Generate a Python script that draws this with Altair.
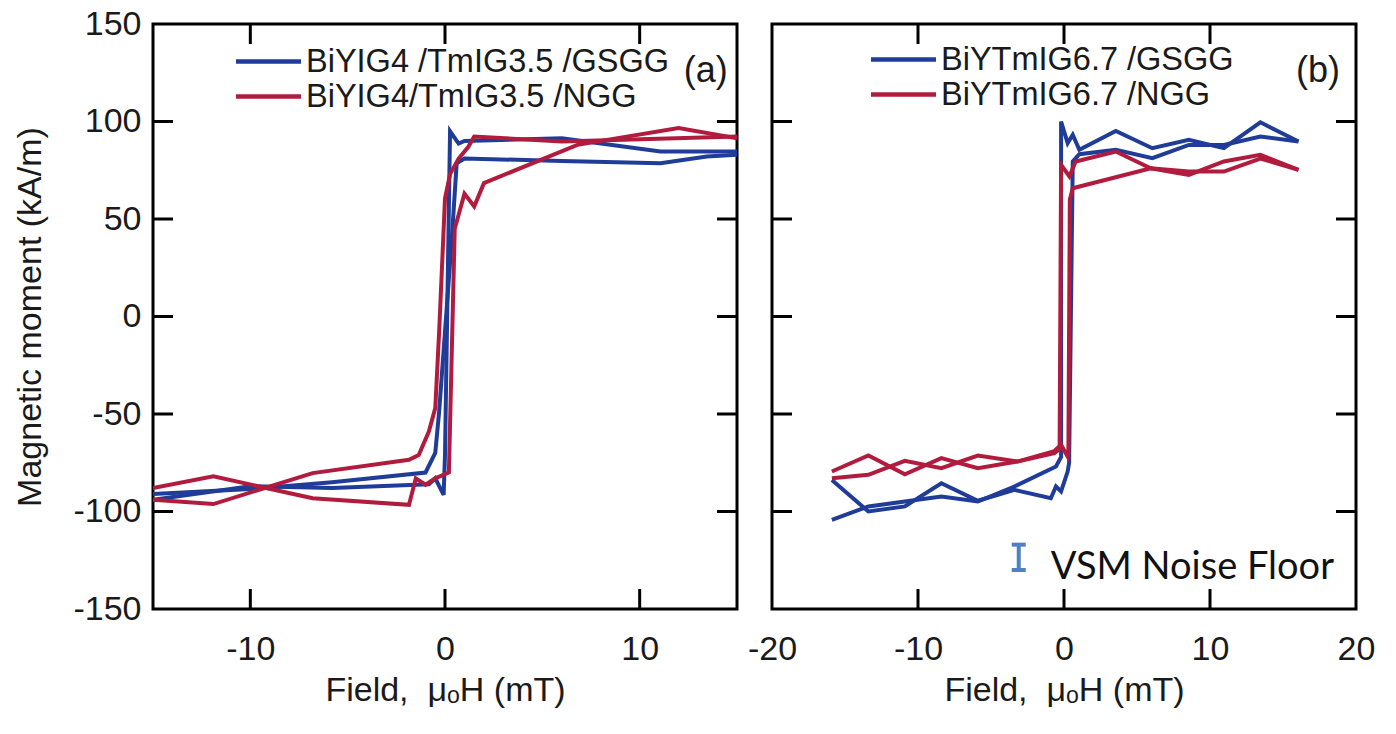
import altair as alt
import pandas as pd

BLUE = "#1f3c98"
RED = "#b11c3e"
NOISE = "#4f7fc4"
INK = "#1a1a1a"
FONT = "Liberation Sans"
W, H = 584, 585

# ---------------- data: panel (a) ----------------
a_labels = ["BiYIG4 /TmIG3.5 /GSGG", "BiYIG4/TmIG3.5 /NGG"]
a_gsgg_dn_x = [15, 11.07, 6.0, 1.0, 0.7, 0.26, 0.0, -0.07, -0.5, -0.83, -5.8, -10, -15]
a_gsgg_dn_y = [84.6, 84.6, 91.4, 90, 88.7, 95, -71, -91.5, -83, -86, -88, -87, -94]
a_gsgg_up_x = [-15, -10, -5.8, -1.0, -0.5, -0.3, 0.35, 0.6, 1.0, 6.0, 11.07, 13.45, 15]
a_gsgg_up_y = [-91, -88.5, -85, -80, -70, -48.7, 40, 78.6, 81, 79.8, 78.6, 82, 83]
a_ngg_dn_x = [15, 12, 6.8, 2.0, 1.5, 1.0, 0.5, 0.2, -0.5, -1.0, -1.5, -1.85, -6.8, -11.9, -15]
a_ngg_dn_y = [91.4, 96.6, 88, 68.4, 56.4, 63, 45, -80, -83, -86.3, -83, -96.6, -93.2, -82, -88]
a_ngg_up_x = [-15, -11.9, -6.8, -1.85, -1.35, -0.83, -0.5, -0.3, 0.0, 0.26, 0.7, 1.2, 1.5, 6.0, 15]
a_ngg_up_y = [-94, -96.2, -80.3, -73.5, -71, -59, -47, -7.7, 60.5, 73, 81, 87, 92.3, 89.7, 92.3]

# ---------------- data: panel (b) ----------------
b_labels = ["BiYTmIG6.7 /GSGG", "BiYTmIG6.7 /NGG"]
b_gsgg_up_x = [-15.9, -13.4, -10.9, -8.4, -5.9, -3.4, -0.55, -0.2, -0.2, 0.25, 0.6, 1.05, 3.55, 6.05, 8.55, 10.95, 13.45, 16.06]
b_gsgg_up_y = [-104.3, -97.4, -94.9, -92.3, -94.9, -87.2, -76.9, -72, 100, 88.9, 93.2, 85.5, 95.2, 86.3, 90.6, 86.3, 99.6, 89.7]
b_gsgg_dn_x = [16.06, 13.45, 10.95, 8.55, 6.05, 3.55, 1.05, 0.6, 0.35, 0.25, -0.2, -0.55, -0.9, -3.4, -5.9, -8.4, -10.9, -13.4, -15.9]
b_gsgg_dn_y = [89.7, 92.3, 88, 88, 81.2, 85.5, 83.2, 79.5, -75, -79.5, -89.7, -87.2, -93.2, -88.9, -94.5, -85.5, -97.4, -100, -83.8]
b_ngg_up_x = [-15.9, -13.4, -10.9, -8.4, -5.9, -3.2, -0.66, -0.3, -0.2, 0.37, 0.8, 3.55, 5.94, 8.55, 10.95, 13.45, 16.06]
b_ngg_up_y = [-79.5, -71.3, -80.9, -72.6, -77.8, -74.4, -70.1, -68, 77.8, 71.8, 79.5, 84.6, 76, 72.6, 79.5, 82.9, 75.2]
b_ngg_dn_x = [16.06, 13.45, 10.95, 8.55, 5.94, 0.6, 0.4, 0.3, 0.25, -0.2, -0.66, -3.2, -5.9, -8.4, -10.9, -13.4, -15.9]
b_ngg_dn_y = [75.2, 81, 74.3, 74.3, 76, 65.8, 60, -70, -71.8, -65.8, -69, -74.4, -71.3, -77.8, -74, -81.2, -82.9]

# ---------------- axes ----------------
y_ticks = [-150, -100, -50, 0, 50, 100, 150]
y_inner = [-100, -50, 0, 50, 100]
a_xdom = [-15, 15]
b_xdom = [-20, 20]
a_xticks = [-10, 0, 10]
b_xticks = [-20, -10, 0, 10, 20]
x_inner = [-10, 0, 10]
ydom = [-150, 150]

noise_x = [-3.1]
noise_lo = [-130]
noise_hi = [-117]
noise_text = ["VSM Noise Floor"]

X_TITLE = "Field, \u00a0μₒH (mT)"
Y_TITLE = "Magnetic moment (kA/m)"


def loop_df(branches, label):
    rows = []
    k = 0
    for bi, (xs, ys) in enumerate(branches):
        for x, y in zip(xs, ys):
            rows.append({"x": x, "y": y, "series": label, "branch": f"{label}-{bi}", "o": k})
            k += 1
    return rows


def panel(df, labels, xdom, xticks, leg_px, tag, tag_xy, show_y, noise=False):
    xs = alt.Scale(domain=xdom, nice=False, zero=False)
    ys = alt.Scale(domain=ydom, nice=False, zero=False)
    cs = alt.Scale(domain=labels, range=[BLUE, RED])
    xaxis = alt.Axis(values=xticks, title=X_TITLE, ticks=False, tickSize=0,
                     domain=False, grid=False, labelFlush=False, labelFontSize=34,
                     labelPadding=23, titleFontSize=34, titlePadding=7,
                     labelColor=INK, titleColor=INK, labelFont=FONT, titleFont=FONT,
                     titleFontWeight="normal", labelExpr="'' + datum.value")
    if show_y:
        yaxis = alt.Axis(values=y_ticks, title=Y_TITLE, ticks=False, tickSize=0,
                         domain=False, grid=False, labelFontSize=34, labelPadding=12,
                         titleFontSize=34, titlePadding=25, labelColor=INK, titleColor=INK,
                         labelFont=FONT, titleFont=FONT, titleFontWeight="normal",
                         labelExpr="'' + datum.value")
    else:
        yaxis = None

    def X(f):
        return alt.X(f, type="quantitative", scale=xs, axis=xaxis)

    def Y(f):
        return alt.Y(f, type="quantitative", scale=ys, axis=yaxis)

    lines = alt.Chart(df).mark_line(strokeWidth=4, clip=True).encode(
        x=X("x"), y=Y("y"),
        color=alt.Color("series:N", scale=cs, legend=None),
        detail="branch:N",
        order="o:Q",
    )

    def tick_layer(xv, yv, orient, dx, dy):
        d = pd.DataFrame({"x": xv, "y": yv})
        return alt.Chart(d).mark_tick(orient=orient, size=20, thickness=3, color="black",
                                      opacity=1, xOffset=dx, yOffset=dy).encode(x=X("x"), y=Y("y"))

    n_y = len(y_inner)
    n_x = len(x_inner)
    layers = [
        lines,
        tick_layer([xdom[0]] * n_y, y_inner, "horizontal", 10, 0),
        tick_layer([xdom[1]] * n_y, y_inner, "horizontal", -10, 0),
        tick_layer(x_inner, [ydom[0]] * n_x, "vertical", 0, -10),
        tick_layer(x_inner, [ydom[1]] * n_x, "vertical", 0, 10),
    ]

    # legend (inside the frame): pixel layout converted to data units
    span = xdom[1] - xdom[0]
    px2x = lambda p: xdom[0] + p * span / W
    py2y = lambda p: ydom[1] - p * (ydom[1] - ydom[0]) / H
    x0, x1, xt, r1, r2 = leg_px
    ldf = pd.DataFrame({"series": labels, "x0": [px2x(x0)] * 2, "x1": [px2x(x1)] * 2,
                        "xt": [px2x(xt)] * 2, "y": [py2y(r1), py2y(r2)]})
    layers.append(alt.Chart(ldf).mark_rule(strokeWidth=4.5).encode(
        x=X("x0"), x2="x1:Q", y=Y("y"), color=alt.Color("series:N", scale=cs, legend=None)))
    layers.append(alt.Chart(ldf).mark_text(align="left", baseline="middle", fontSize=32.5,
                                           font=FONT, color=INK).encode(
        x=X("xt"), y=Y("y"), text="series:N"))

    tdf = pd.DataFrame({"x": [tag_xy[0]], "y": [tag_xy[1]], "t": [tag]})
    layers.append(alt.Chart(tdf).mark_text(fontSize=36, font=FONT, color=INK).encode(
        x=X("x"), y=Y("y"), text="t:N"))

    if noise:
        ndf = pd.DataFrame({"x": noise_x, "lo": noise_lo, "hi": noise_hi,
                            "tx": [-0.9], "ty": [-129], "t": noise_text})
        layers.append(alt.Chart(ndf).mark_rule(color=NOISE, strokeWidth=4).encode(
            x=X("x"), y=Y("lo"), y2="hi:Q"))
        layers.append(alt.Chart(ndf).mark_tick(orient="horizontal", size=14, thickness=4,
                                               color=NOISE, opacity=1).encode(x=X("x"), y=Y("lo")))
        layers.append(alt.Chart(ndf).mark_tick(orient="horizontal", size=14, thickness=4,
                                               color=NOISE, opacity=1).encode(x=X("x"), y=Y("hi")))
        layers.append(alt.Chart(ndf).mark_text(align="left", baseline="middle", fontSize=38,
                                               font="Lato", color="#111111").encode(
            x=X("tx"), y=Y("ty"), text="t:N"))

    return alt.layer(*layers).properties(width=W, height=H)


a_df = pd.DataFrame(
    loop_df([(a_gsgg_dn_x, a_gsgg_dn_y), (a_gsgg_up_x, a_gsgg_up_y)], a_labels[0])
    + loop_df([(a_ngg_dn_x, a_ngg_dn_y), (a_ngg_up_x, a_ngg_up_y)], a_labels[1])
)
b_df = pd.DataFrame(
    loop_df([(b_gsgg_up_x, b_gsgg_up_y), (b_gsgg_dn_x, b_gsgg_dn_y)], b_labels[0])
    + loop_df([(b_ngg_up_x, b_ngg_up_y), (b_ngg_dn_x, b_ngg_dn_y)], b_labels[1])
)

pa = panel(a_df, a_labels, a_xdom, a_xticks, (83, 148, 153, 37.5, 72.5), "(a)", (13.4, 126), True)
pb = panel(b_df, b_labels, b_xdom, b_xticks, (99, 164, 169, 35.5, 70.5), "(b)", (17.4, 126), False,
           noise=True)

chart = alt.hconcat(pa, pb, spacing=35, bounds="flush").resolve_scale(
    color="independent", x="independent", y="independent"
).properties(
    padding={"left": 12, "top": 5, "right": 5, "bottom": 5},
    background="white",
).configure(font=FONT).configure_view(stroke="black", strokeWidth=3)

chart.save("out.html", embed_options={"renderer": "svg", "actions": False})
